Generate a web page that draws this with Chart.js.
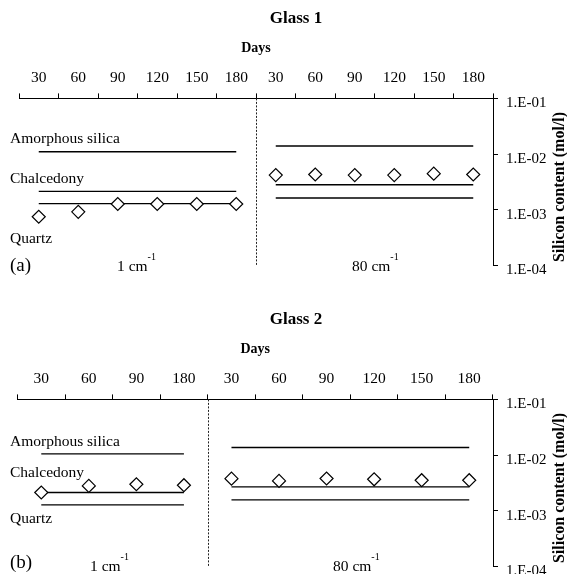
<!DOCTYPE html>
<html>
<head>
<meta charset="utf-8">
<title>Silicon content - Glass 1 / Glass 2</title>
<script src="https://cdn.jsdelivr.net/npm/chart.js@4.4.0/dist/chart.umd.min.js"></script>
<style>
  html, body { margin: 0; padding: 0; background: #fff; overflow: hidden; }
  #wrap { position: relative; width: 567px; height: 574px; }
  canvas { position: absolute; left: 0; }
  #glass1 { top: 0; }
  #glass2 { top: 301px; }
</style>
</head>
<body>
<div id="wrap">
  <canvas id="glass1" width="567" height="290"></canvas>
  <canvas id="glass2" width="567" height="290"></canvas>
</div>
<script>
// days, first block = 1 cm-1, second block = 80 cm-1
const glass1Days = ['30', '60', '90', '120', '150', '180', '30', '60', '90', '120', '150', '180'];
const glass2Days = ['30', '60', '90', '180', '30', '60', '90', '120', '150', '180'];

// measured silicon content (mol/l)
const glass1Silicon = [7.5e-4, 9.2e-4, 1.27e-3, 1.27e-3, 1.27e-3, 1.27e-3, 4.2e-3, 4.3e-3, 4.2e-3, 4.2e-3, 4.45e-3, 4.3e-3];
const glass2Silicon = [2.13e-3, 2.8e-3, 3.0e-3, 2.88e-3, 3.78e-3, 3.44e-3, 3.8e-3, 3.68e-3, 3.54e-3, 3.54e-3];

// solubility limits: [1 cm-1, 80 cm-1]
const glass1Amorphous = [1.1e-2, 1.4e-2];
const glass1Chalcedony = [2.14e-3, 2.82e-3];
const glass1Quartz = [1.29e-3, 1.63e-3];
const glass2Amorphous = [1.05e-2, 1.37e-2];
const glass2Chalcedony = [2.13e-3, 2.69e-3];
const glass2Quartz = [1.28e-3, 1.57e-3];

const yTickValues = [1e-4, 1e-3, 1e-2, 1e-1];
const yTickLabels = ['1.E-04', '1.E-03', '1.E-02', '1.E-01'];

const serif = '"Liberation Serif", "Times New Roman", serif';

// repeat each block's limit over its days
function limitLine(limits, split, count) {
    return Array.from({ length: count }, (_, i) => limits[i < split ? 0 : 1]);
}

// dotted separator + all the free text of a panel
const panelText = {
    id: 'panelText',
    beforeDatasetsDraw(chart, args, opts) {
        const x = chart.scales.x;
        const area = chart.chartArea;
        const xs = Math.round((x.getPixelForTick(opts.split - 1) + x.getPixelForTick(opts.split)) / 2) + 0.5;
        const ctx = chart.ctx;
        ctx.save();
        ctx.strokeStyle = '#222';
        ctx.lineWidth = 1;
        ctx.setLineDash([2, 1.5]);
        ctx.beginPath();
        ctx.moveTo(xs, area.top);
        ctx.lineTo(xs, area.bottom);
        ctx.stroke();
        ctx.restore();
    },
    afterDraw(chart, args, opts) {
        const ctx = chart.ctx;
        ctx.save();
        ctx.fillStyle = '#000';

        ctx.textAlign = 'center';
        ctx.textBaseline = 'middle';
        ctx.font = 'bold 17px ' + serif;
        ctx.fillText(opts.title, 296, 19);

        // axis title on the right, reads bottom to top
        ctx.save();
        ctx.translate(560, 187);
        ctx.rotate(-Math.PI / 2);
        ctx.font = 'bold 16px ' + serif;
        ctx.fillText('Silicon content (mol/l)', 0, 0);
        ctx.restore();

        ctx.textAlign = 'left';
        ctx.font = '15.5px ' + serif;
        opts.notes.forEach(n => ctx.fillText(n.text, 10, n.y));

        ctx.font = '19px ' + serif;
        ctx.fillText(opts.tag, 10, opts.tagY);

        // "1 cm-1" and "80 cm-1" with superscript
        ctx.textBaseline = 'alphabetic';
        opts.units.forEach(u => {
            ctx.font = '15.5px ' + serif;
            ctx.fillText(u.text, u.x, opts.unitY);
            const w = ctx.measureText(u.text).width;
            ctx.font = '10px ' + serif;
            ctx.fillText('-1', u.x + w, opts.unitY - 11);
        });
        ctx.restore();
    }
};

function makeChart(id, days, silicon, amorphous, chalcedony, quartz, split, left, text) {
    const n = days.length;
    const limitSegment = {
        borderColor: c => c.p0DataIndex === split - 1 ? 'rgba(0,0,0,0)' : '#000'
    };
    const lineStyle = { borderColor: '#000', borderWidth: 1.4, pointRadius: 0, fill: false, segment: limitSegment };

    return new Chart(document.getElementById(id), {
        type: 'line',
        data: {
            labels: days,
            datasets: [
                {
                    label: 'Si',
                    data: silicon,
                    showLine: false,
                    pointStyle: 'rectRot',
                    pointRadius: 6.5,
                    pointBackgroundColor: '#fff',
                    pointBorderColor: '#000',
                    pointBorderWidth: 1.2,
                    clip: false
                },
                Object.assign({ label: 'Amorphous silica', data: limitLine(amorphous, split, n) }, lineStyle),
                Object.assign({ label: 'Chalcedony', data: limitLine(chalcedony, split, n) }, lineStyle),
                Object.assign({ label: 'Quartz', data: limitLine(quartz, split, n) }, lineStyle)
            ]
        },
        options: {
            responsive: false,
            animation: false,
            events: [],
            layout: { padding: { top: 36, left: left, right: 20, bottom: 24.5 } },
            plugins: {
                legend: { display: false },
                tooltip: { enabled: false },
                title: { display: false },
                panelText: Object.assign({ split: split }, text)
            },
            scales: {
                x: {
                    type: 'category',
                    position: 'top',
                    offset: true,
                    grid: { offset: true, drawOnChartArea: false, tickLength: 5, color: '#000' },
                    border: { color: '#000', width: 1 },
                    ticks: { color: '#000', font: { family: serif, size: 15.5 }, padding: 6, autoSkip: false, maxRotation: 0 },
                    title: {
                        display: true,
                        text: 'Days',
                        color: '#000',
                        font: { family: serif, size: 14, weight: 'bold' },
                        padding: { top: 4, bottom: 6 }
                    }
                },
                y: {
                    type: 'logarithmic',
                    position: 'right',
                    min: 1e-4,
                    max: 1e-1,
                    grid: { drawOnChartArea: false, tickLength: 5, color: '#000' },
                    border: { color: '#000', width: 1 },
                    afterBuildTicks: s => { s.ticks = yTickValues.map(v => ({ value: v })); },
                    afterFit: s => { s.width = 54; },
                    ticks: {
                        color: '#000',
                        font: { family: serif, size: 15 },
                        padding: 8,
                        labelOffset: 5,
                        callback: (v, i) => yTickLabels[i]
                    }
                }
            }
        },
        plugins: [panelText]
    });
}

makeChart('glass1', glass1Days, glass1Silicon, glass1Amorphous, glass1Chalcedony, glass1Quartz, 6, 19, {
    title: 'Glass 1',
    notes: [
        { text: 'Amorphous silica', y: 139 },
        { text: 'Chalcedony', y: 179 },
        { text: 'Quartz', y: 239 }
    ],
    tag: '(a)',
    tagY: 266,
    unitY: 271,
    units: [{ text: '1 cm', x: 117 }, { text: '80 cm', x: 352 }]
});

makeChart('glass2', glass2Days, glass2Silicon, glass2Amorphous, glass2Chalcedony, glass2Quartz, 4, 17.5, {
    title: 'Glass 2',
    notes: [
        { text: 'Amorphous silica', y: 141 },
        { text: 'Chalcedony', y: 172 },
        { text: 'Quartz', y: 218 }
    ],
    tag: '(b)',
    tagY: 262,
    unitY: 270,
    units: [{ text: '1 cm', x: 90 }, { text: '80 cm', x: 333 }]
});
</script>
</body>
</html>
